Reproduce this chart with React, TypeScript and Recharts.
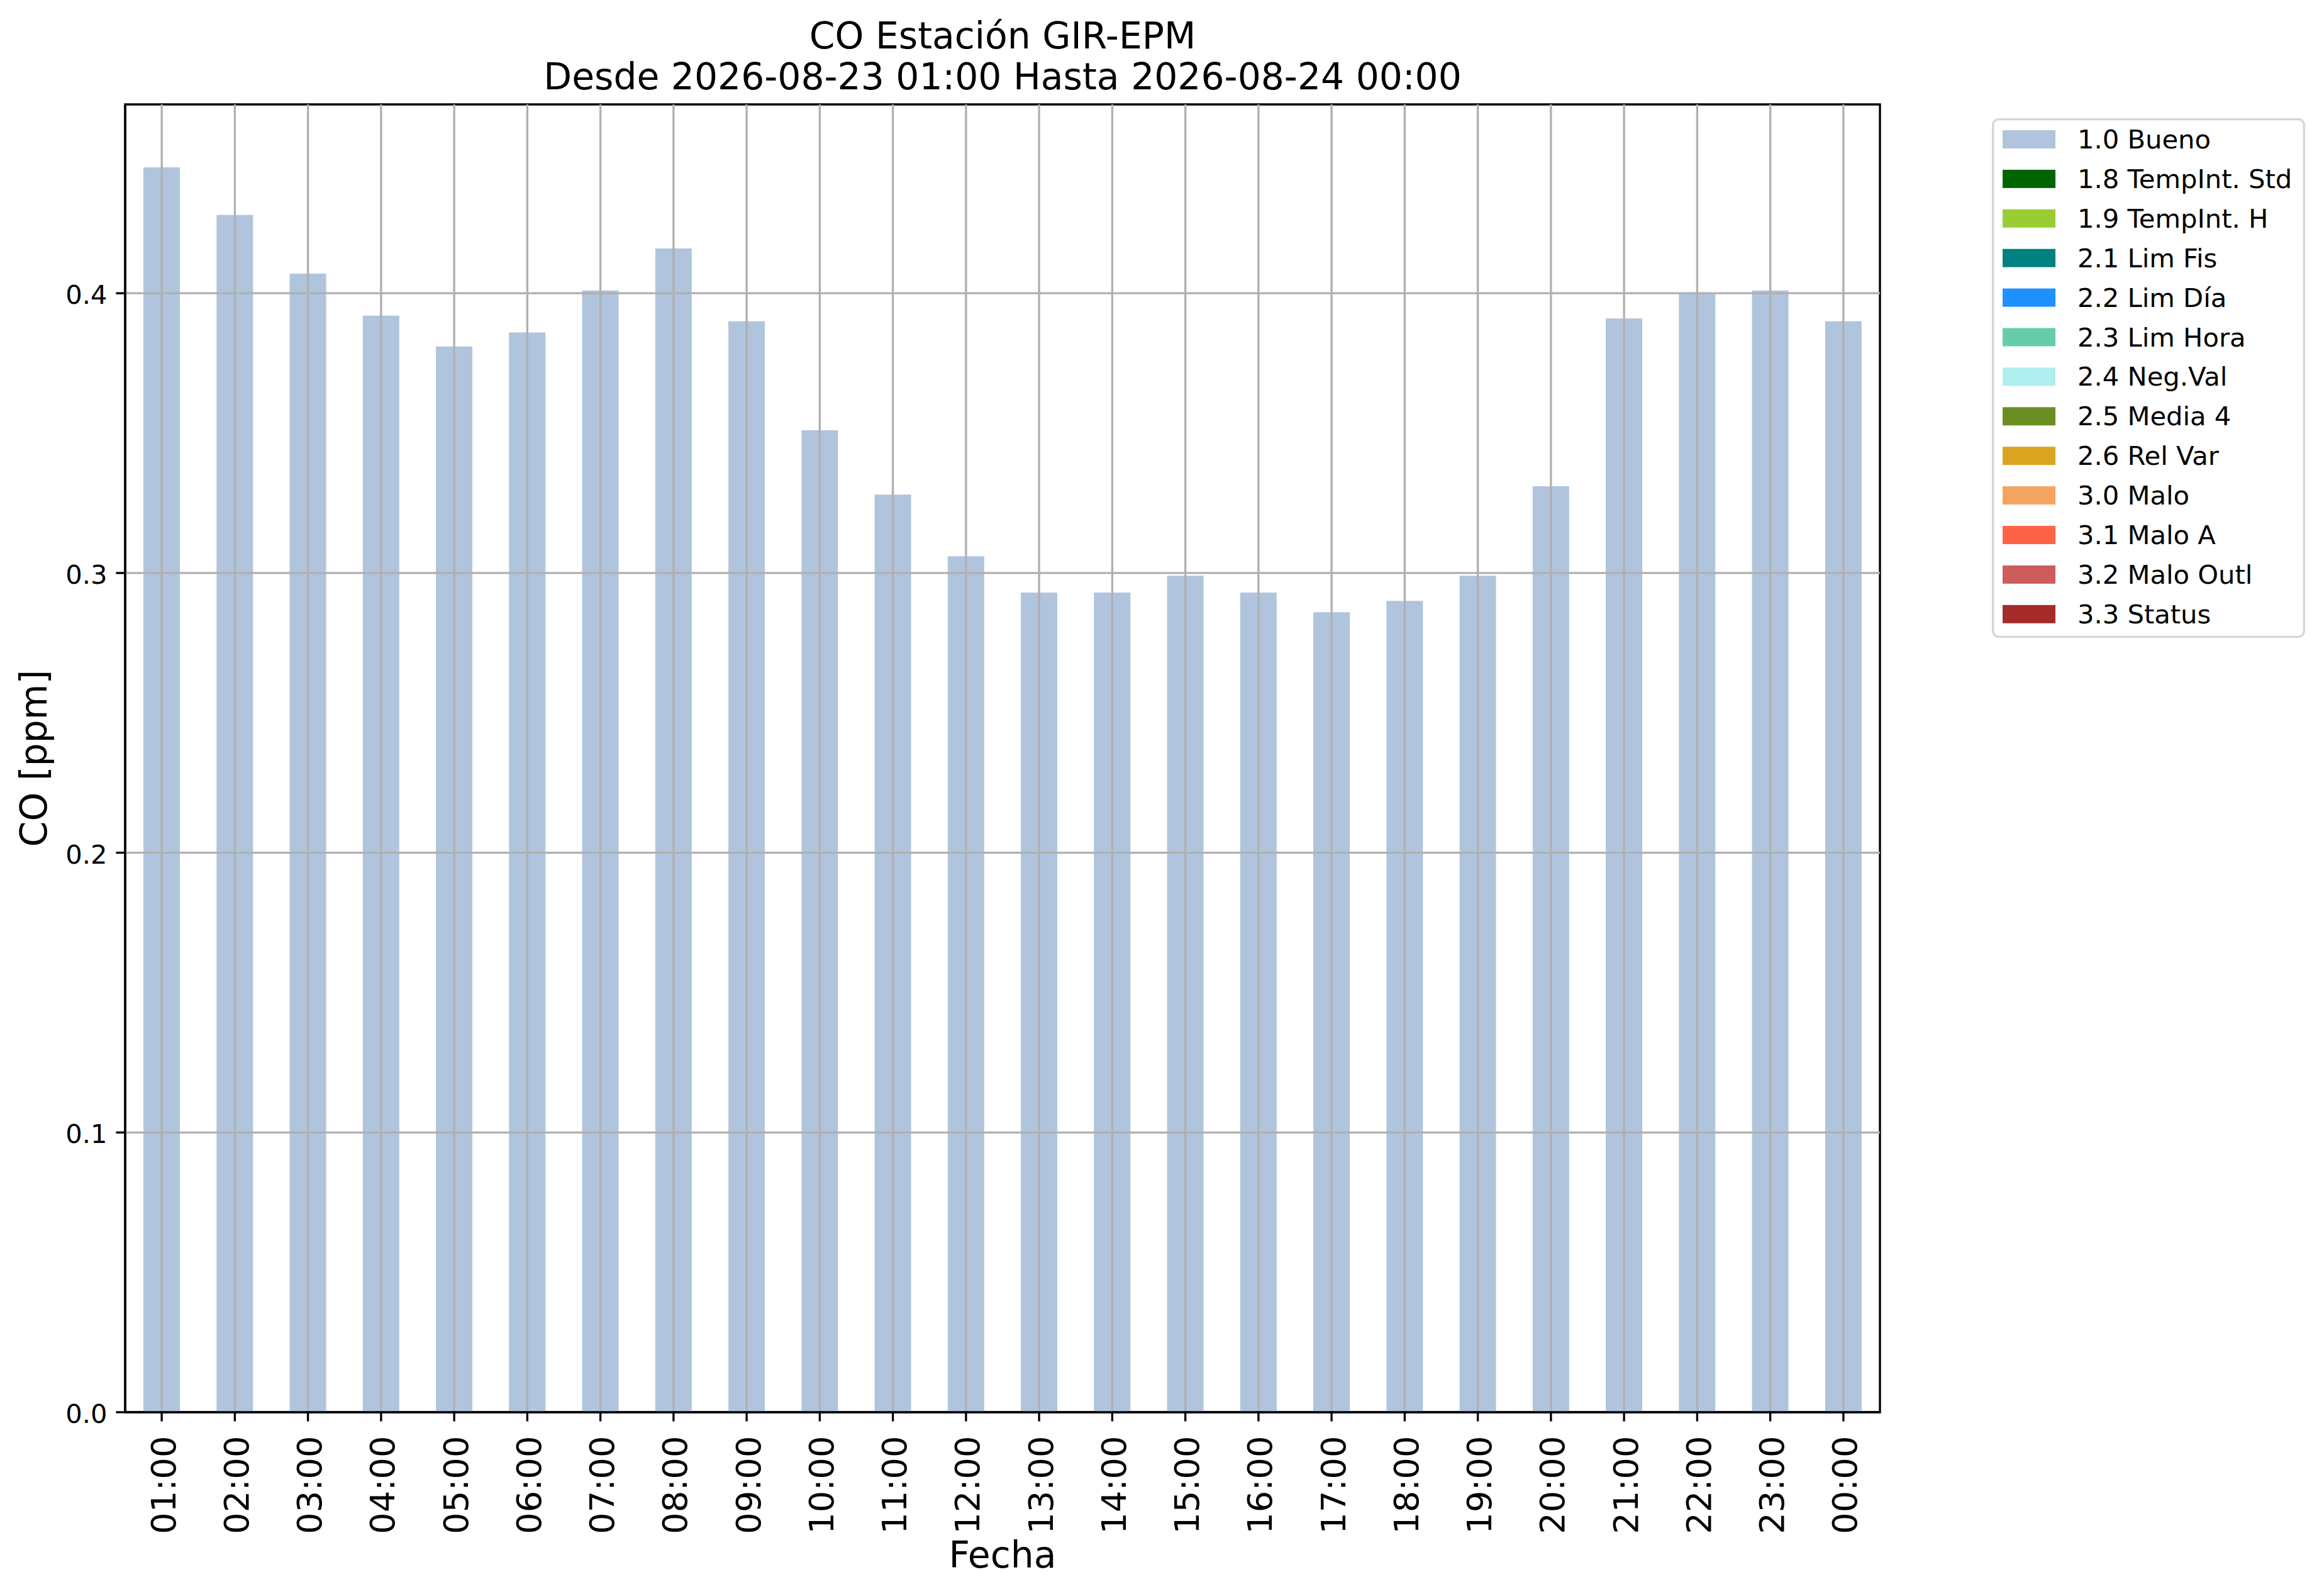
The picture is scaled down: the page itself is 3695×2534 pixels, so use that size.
import React from "react";
import { BarChart, Bar, XAxis, YAxis, ReferenceLine, ReferenceArea, Legend } from "recharts";

// hourly CO means, 2026-08-23 01:00 .. 2026-08-24 00:00
const hours = [
  "01:00", "02:00", "03:00", "04:00", "05:00", "06:00", "07:00", "08:00",
  "09:00", "10:00", "11:00", "12:00", "13:00", "14:00", "15:00", "16:00",
  "17:00", "18:00", "19:00", "20:00", "21:00", "22:00", "23:00", "00:00",
];
const coValues = [
  0.445, 0.428, 0.407, 0.392, 0.381, 0.386, 0.401, 0.416,
  0.390, 0.351, 0.328, 0.306, 0.293, 0.293, 0.299, 0.293,
  0.286, 0.290, 0.299, 0.331, 0.391, 0.400, 0.401, 0.390,
];
const yTicks = [0, 0.1, 0.2, 0.3, 0.4];
const yMax = 0.4675;

// quality flags shown in the legend
const flagNames = [
  "1.0 Bueno", "1.8 TempInt. Std", "1.9 TempInt. H", "2.1 Lim Fis",
  "2.2 Lim Día", "2.3 Lim Hora", "2.4 Neg.Val", "2.5 Media 4",
  "2.6 Rel Var", "3.0 Malo", "3.1 Malo A", "3.2 Malo Outl", "3.3 Status",
];
const flagColors = [
  "#B0C4DE", "#006400", "#9ACD32", "#008080", "#1E90FF", "#66CDAA",
  "#AFEEEE", "#6B8E23", "#DAA520", "#F4A460", "#FF6347", "#CD5C5C", "#A52A2A",
];

const titleLines = [
  "CO Estación GIR-EPM",
  "Desde 2026-08-23 01:00 Hasta 2026-08-24 00:00",
];

const data = hours.map((hour, i) => ({ hour, co: coValues[i] }));

// matplotlib at 300 dpi
const PT = 300 / 72;
const FONT = "'DejaVu Sans', sans-serif";
const W = 3695;
const H = 2534;
const LEFT = 199;
const TOP = 166;
const RIGHT = 2989;
const BOTTOM = 2245;
const GRID = "#b0b0b0";
const LW = 0.8 * PT;

function XTick({ x, y, payload }: any) {
  return (
    <text
      x={x}
      y={y}
      dy={21.5}
      transform={`rotate(-90, ${x}, ${y})`}
      textAnchor="end"
      fontFamily={FONT}
      fontSize={13 * PT}
      fill="#000"
    >
      {payload.value}
    </text>
  );
}

function YTick({ x, y, payload }: any) {
  return (
    <text
      x={x}
      y={y}
      dy={17}
      textAnchor="end"
      fontFamily={FONT}
      fontSize={10 * PT}
      fill="#000"
    >
      {Number(payload.value).toFixed(1)}
    </text>
  );
}

function FlagLegend() {
  const rowH = 62.9;
  return (
    <svg width={498} height={826} style={{ display: "block" }}>
      <rect
        x={1.7}
        y={1.7}
        width={494.6}
        height={822.6}
        rx={9}
        fill="#fff"
        fillOpacity={0.8}
        stroke="#d6d6d6"
        strokeWidth={LW}
      />
      {flagNames.map((name, i) => (
        <g key={name}>
          <rect x={17} y={19 + i * rowH} width={84} height={29} fill={flagColors[i]} />
          <text
            x={136}
            y={48 + i * rowH}
            fontFamily={FONT}
            fontSize={10 * PT}
            fill="#000"
          >
            {name}
          </text>
        </g>
      ))}
    </svg>
  );
}

export default function App() {
  const axisMidX = (LEFT + RIGHT) / 2;
  const axisMidY = (TOP + BOTTOM) / 2;
  return (
    <div style={{ position: "absolute", left: 0, top: 0, width: W, height: H, background: "#fff" }}>
      <BarChart
        width={W}
        height={H}
        data={data}
        barCategoryGap="25%"
        margin={{ top: TOP, right: W - RIGHT, bottom: 0, left: 0 }}
      >
        <XAxis
          dataKey="hour"
          height={H - BOTTOM}
          interval={0}
          tick={<XTick />}
          tickSize={3.5 * PT}
          tickMargin={23}
          tickLine={{ stroke: "#000", strokeWidth: LW }}
          axisLine={{ stroke: "#000", strokeWidth: LW }}
        />
        <YAxis
          type="number"
          domain={[0, yMax]}
          ticks={yTicks}
          width={LEFT}
          tick={<YTick />}
          tickSize={3.5 * PT}
          tickMargin={14}
          tickLine={{ stroke: "#000", strokeWidth: LW }}
          axisLine={{ stroke: "#000", strokeWidth: LW }}
        />
        <Bar dataKey="co" name="1.0 Bueno" fill={flagColors[0]} isAnimationActive={false} />
        {/* matplotlib draws the grid above the bars */}
        {hours.map((h) => (
          <ReferenceLine key={h} x={h} stroke={GRID} strokeWidth={LW} />
        ))}
        {yTicks.slice(1).map((t) => (
          <ReferenceLine key={t} y={t} stroke={GRID} strokeWidth={LW} />
        ))}
        {/* axes frame */}
        <ReferenceArea
          x1={hours[0]}
          x2={hours[hours.length - 1]}
          y1={0}
          y2={yMax}
          fill="none"
          fillOpacity={0}
          stroke="#000"
          strokeWidth={LW}
        />
        <Legend
          layout="vertical"
          align="center"
          verticalAlign="middle"
          content={<FlagLegend />}
          wrapperStyle={{ position: "absolute", left: 3167, top: 188, width: 498, height: 826 }}
        />
      </BarChart>

      <svg
        width={W}
        height={H}
        style={{ position: "absolute", left: 0, top: 0, pointerEvents: "none" }}
      >
        <g fontFamily={FONT} fontSize={14 * PT} fill="#000" textAnchor="middle">
          <text x={axisMidX} y={76.5}>{titleLines[0]}</text>
          <text x={axisMidX} y={141.5}>{titleLines[1]}</text>
          <text x={axisMidX} y={2492}>Fecha</text>
          <text transform={`translate(74, ${axisMidY}) rotate(-90)`}>CO [ppm]</text>
        </g>
      </svg>
    </div>
  );
}
